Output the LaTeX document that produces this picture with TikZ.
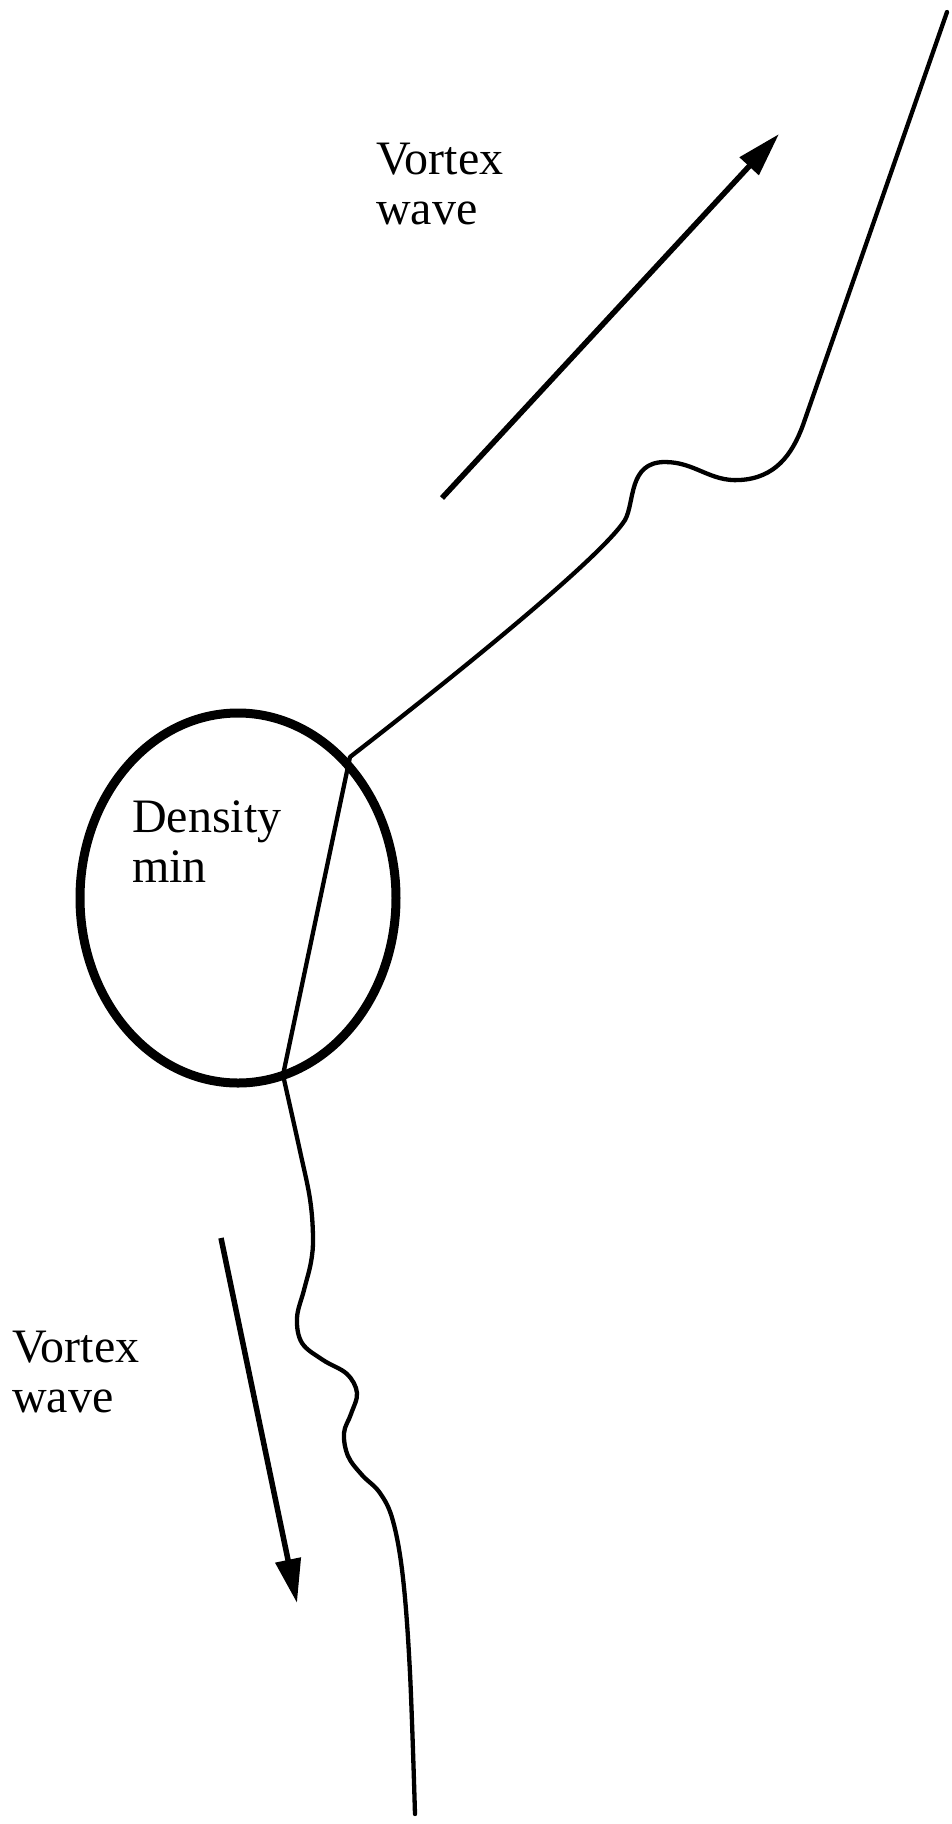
\documentclass[tikz,border=0pt]{standalone}
\usepackage{fontspec}
\setmainfont{Liberation Serif}
\usetikzlibrary{shapes.geometric,arrows.meta}
\tikzset{
  label/.style={align=left, inner sep=0pt, anchor=base west, font=\fontsize{48}{50}\selectfont},
  wavearrow/.style={line width=5.5pt, -{Triangle[length=44pt,width=25pt]}},
  vortex/.style={line width=4.3pt, line cap=round, line join=round},
  chord/.style={line width=4.3pt}
}
\begin{document}
\begin{tikzpicture}[x=1pt,y=-1pt]
\useasboundingbox (0,0) rectangle (951,1824);
% density minimum
\node (dmin) [ellipse, draw, line width=9pt, minimum width=316pt, minimum height=370pt, inner sep=0pt] at (238,898) {};
\node (dtxt) [label] at (132,882) {Density\\min};
% chord endpoints
\coordinate (p1) at (350,757);
\coordinate (p2) at (283,1075);
\coordinate (ttop) at (947,12);
\draw[chord] (p1) -- (p2);
% upper vortex line
\draw[vortex] (p1) .. controls (470,664) and (603,555) .. (625,520)
  .. controls (635,502) and (628,462) .. (665,462)
  .. controls (695,462) and (710,482) .. (740,480)
  .. controls (775,478) and (792,455) .. (803,425) -- (ttop);
% lower vortex line
\draw[vortex] plot[smooth, tension=0.6] coordinates {(283,1075) (300,1151) (310,1199) (313,1237) (311,1262) (304,1290) (297,1318) (302,1343) (323,1360) (347,1374) (357,1393) (351,1414) (344,1433) (348,1456) (362,1475) (380,1493) (393,1521) (403,1578) (410,1673) (415,1814)};
% arrows
\coordinate (a1s) at (442,498);
\coordinate (a1e) at (779,134);
\draw[wavearrow] (a1s) -- (a1e);
\coordinate (a2s) at (221,1238);
\coordinate (a2e) at (297,1603);
\draw[wavearrow] (a2s) -- (a2e);
% labels
\node (vtop) [label] at (376,224) {Vortex\\wave};
\node (vbot) [label] at (12,1412) {Vortex\\wave};
\end{tikzpicture}
\end{document}
